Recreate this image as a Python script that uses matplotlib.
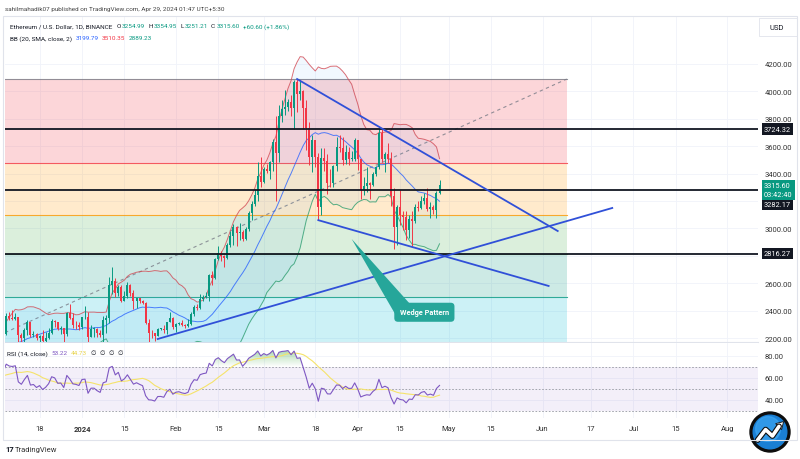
import numpy as np
import pandas as pd
import matplotlib
matplotlib.use('Agg')
import matplotlib.pyplot as plt
from matplotlib.path import Path
from matplotlib.patches import Circle, Polygon, Rectangle
from matplotlib.colors import to_rgb

plt.rcParams['font.family'] = ['Roboto', 'DejaVu Sans']

W, H = 800, 460

# ---- data (ETHUSD daily) ----
warmup_close = [1846, 1806, 1832, 1857, 1894, 1899, 1886, 1891, 2121, 2077,
                2053, 2046, 2055, 1980, 2058, 1961, 1962, 1963, 2012, 2022,
                1930, 2063, 2062, 2081, 2084, 2063, 2028, 2049, 2028, 2052]
first_open = 2052

close = [
    # Dec 2023
    2088, 2166, 2193, 2243, 2293, 2232, 2358, 2344, 2341, 2352,
    2225, 2202, 2260, 2316, 2221, 2228, 2197, 2218, 2178, 2201,
    2240, 2326, 2316, 2268, 2271, 2230, 2380, 2345, 2297, 2292, 2281,
    # Jan 2024
    2352, 2356, 2209, 2268, 2268, 2240, 2221, 2330, 2343, 2584,
    2616, 2525, 2576, 2472, 2510, 2587, 2528, 2467, 2490, 2470,
    2453, 2310, 2238, 2234, 2217, 2267, 2268, 2257, 2316, 2343, 2283,
    # Feb
    2304, 2309, 2296, 2290, 2300, 2375, 2425, 2420, 2487, 2500,
    2507, 2659, 2640, 2776, 2824, 2802, 2787, 2881, 2944, 3013,
    2967, 2971, 2921, 2992, 3112, 3175, 3242, 3385, 3340,
    # Mar
    3435, 3421, 3488, 3627, 3553, 3817, 3869, 3886, 3920, 3877,
    4067, 3982, 4004, 3880, 3736, 3523, 3644, 3520, 3157, 3517,
    3492, 3334, 3330, 3453, 3591, 3586, 3497, 3559, 3507, 3508, 3647,
    # Apr
    3506, 3280, 3310, 3330, 3319, 3396, 3450, 3697, 3503, 3542,
    3506, 3237, 3009, 3156, 3100, 3083, 2985, 3065, 3056, 3156,
    3147, 3202, 3219, 3140, 3157, 3131, 3254.99, 3315.60]

high = [
    2105, 2171, 2218, 2275, 2308, 2308, 2382, 2390, 2403, 2381,
    2355, 2240, 2270, 2330, 2320, 2252, 2240, 2225, 2255, 2245,
    2275, 2338, 2335, 2320, 2285, 2276, 2393, 2445, 2385, 2322, 2320,
    2355, 2432, 2388, 2295, 2278, 2270, 2260, 2358, 2368, 2643,
    2717, 2636, 2586, 2585, 2546, 2611, 2595, 2552, 2492, 2490,
    2475, 2460, 2338, 2258, 2236, 2270, 2276, 2297, 2319, 2392, 2352,
    2308, 2318, 2330, 2303, 2340, 2390, 2438, 2445, 2519, 2515,
    2537, 2665, 2687, 2787, 2868, 2836, 2808, 2890, 2982, 3032,
    3015, 3036, 2990, 3008, 3125, 3200, 3290, 3487, 3522,
    3450, 3470, 3495, 3650, 3822, 3900, 3940, 4010, 3945, 3970,
    4086, 4090, 4085, 4010, 3934, 3780, 3680, 3645, 3550, 3590,
    3588, 3542, 3435, 3460, 3665, 3680, 3665, 3610, 3595, 3565, 3660,
    3647, 3510, 3372, 3445, 3340, 3408, 3459, 3730, 3728, 3560,
    3620, 3554, 3295, 3172, 3278, 3125, 3124, 3100, 3126, 3177,
    3200, 3240, 3256, 3292, 3192, 3170, 3276, 3354.95]

low = [
    2046, 2085, 2150, 2190, 2202, 2215, 2225, 2330, 2330, 2328,
    2120, 2155, 2145, 2225, 2205, 2205, 2185, 2130, 2155, 2165,
    2190, 2230, 2280, 2260, 2230, 2170, 2218, 2340, 2270, 2268, 2262,
    2265, 2340, 2100, 2205, 2210, 2210, 2210, 2160, 2240, 2312,
    2518, 2500, 2505, 2465, 2470, 2495, 2505, 2414, 2417, 2455,
    2450, 2300, 2168, 2200, 2180, 2215, 2255, 2240, 2230, 2315, 2268,
    2243, 2293, 2290, 2273, 2282, 2295, 2363, 2405, 2414, 2470,
    2495, 2472, 2590, 2628, 2769, 2760, 2720, 2780, 2865, 2880,
    2875, 2918, 2905, 2914, 2980, 3060, 3165, 3200, 3300,
    3330, 3405, 3360, 3420, 3200, 3485, 3780, 3830, 3860, 3823,
    3725, 3850, 3935, 3725, 3570, 3460, 3410, 3450, 3060, 3100,
    3420, 3250, 3300, 3300, 3420, 3560, 3465, 3470, 3460, 3490, 3490,
    3423, 3212, 3245, 3265, 3212, 3310, 3383, 3437, 3482, 3413,
    3475, 3160, 2852, 2880, 3025, 2990, 2915, 2932, 2868, 3040,
    3130, 3145, 3180, 3125, 3075, 3107, 3073, 3251.21]

hlines = [3724.32, 3282.17, 2816.27]

fib_prices = [4090, 3480, 3100, 2815, 2500, 2058]
fib_colors = ['#787B86', '#F23645', '#FF9800', '#4CAF50', '#089981', '#00BCD4']
fib_start, fib_end = '2023-09-24', '2024-06-09'
fib_low = 1505

upper_line = (['2024-03-12', '2024-06-06'], [4090, 2981])
lower_line = (['2024-03-19', '2024-06-03'], [3060, 2580])
rising_line = (['2024-01-26', '2024-06-24'], [2193, 3149])

tick_dates = ['2023-12-18', '2024-01-01', '2024-01-15', '2024-02-01', '2024-02-15',
              '2024-03-01', '2024-03-18', '2024-04-01', '2024-04-15', '2024-05-01',
              '2024-05-15', '2024-06-01', '2024-06-17', '2024-07-01', '2024-07-15',
              '2024-08-01']
tick_labels = ['18', '2024', '15', 'Feb', '15', 'Mar', '18', 'Apr', '15', 'May',
               '15', 'Jun', '17', 'Jul', '15', 'Aug']

price_ticks = [2200, 2400, 2600, 2800, 3000, 3200, 3400, 3600, 3800, 4000, 4200]
hidden_ticks = [2800, 3200]


def day(s):
    return (np.datetime64(s) - np.datetime64('2024-01-01')).astype(int)


# ---- indicators ----
all_close = pd.Series(warmup_close + close, dtype=float)
all_x = day('2023-11-01') + np.arange(len(all_close))
c = np.array(close, dtype=float)
hi = np.array(high, dtype=float)
lo = np.array(low, dtype=float)
o = np.r_[first_open, c[:-1]]
xc = day('2023-12-01') + np.arange(len(c))

bb_mid = all_close.rolling(20).mean()
bb_sd = all_close.rolling(20).std(ddof=0)
bb_up = bb_mid + 2 * bb_sd
bb_lo = bb_mid - 2 * bb_sd

delta = all_close.diff().fillna(0)
gain = delta.clip(lower=0).ewm(alpha=1 / 14, adjust=False).mean()
loss = (-delta.clip(upper=0)).ewm(alpha=1 / 14, adjust=False).mean()
rsi = (100 - 100 / (1 + gain / loss)).values
rsi_ma = pd.Series(rsi).rolling(14).mean().values

# ---- figure ----
fig = plt.figure(figsize=(W / 100, H / 100), dpi=100)
ax = fig.add_axes([5 / W, 1 - 343 / H, 753 / W, 326 / H])
ax2 = fig.add_axes([5 / W, 1 - 419 / H, 753 / W, 75 / H])
xlim = (-25.4, 223.1)
tick_x = [day(t) for t in tick_dates]

for a in (ax, ax2):
    a.set_xlim(*xlim)
    a.set_xticks(tick_x)
    a.grid(color='#f0f3fa', lw=0.6)
    a.set_axisbelow(True)
    for sp in a.spines.values():
        sp.set_visible(False)
    a.yaxis.tick_right()
    a.tick_params(length=0, labelsize=5.5, labelcolor='#333333', pad=5)

ax.spines['bottom'].set_visible(True)
ax.spines['bottom'].set_color('#e0e3eb')
ax.spines['bottom'].set_linewidth(0.8)
ax.set_ylim(2171, 4550)
ax.set_yticks(price_ticks)
ax.set_yticklabels(['' if p in hidden_ticks else f'{p:.2f}' for p in price_ticks])
ax.tick_params(labelbottom=False)

# fibonacci zones
fx = [day(fib_start), day(fib_end)]
for i in range(1, len(fib_prices)):
    ax.fill_between(fx, fib_prices[i], fib_prices[i - 1], color=fib_colors[i],
                    alpha=0.2, lw=0, zorder=1)
for p, col in zip(fib_prices, fib_colors):
    ax.plot(fx, [p, p], color=col, lw=0.8, alpha=0.8, zorder=2)
ax.plot(fx, [fib_low, fib_prices[0]], color='#787B86', lw=0.8, ls=(0, (3, 3)),
        alpha=0.8, zorder=2)

# bollinger bands
ax.fill_between(all_x, bb_lo, bb_up, color='#2196F3', alpha=0.06, lw=0, zorder=3)
ax.plot(all_x, bb_mid, color='#2962FF', lw=0.7, alpha=0.8, zorder=3)
ax.plot(all_x, bb_up, color='#D04A55', lw=0.7, alpha=0.8, zorder=3)
ax.plot(all_x, bb_lo, color='#2F9E6E', lw=0.7, alpha=0.8, zorder=3)

# candles
cols = np.where(c >= o, '#089981', '#F23645')
ax.vlines(xc, lo, hi, colors=cols, lw=0.7, zorder=5)
ax.bar(xc, np.maximum(np.abs(c - o), 4), bottom=np.minimum(o, c), width=0.66,
       color=cols, lw=0, zorder=6)

# drawings
for dts, ps in (upper_line, lower_line, rising_line):
    ax.plot([day(d) for d in dts], ps, color='#3050D8', lw=1.3, zorder=8)
for p in hlines:
    ax.axhline(p, color='#131722', lw=1.3, zorder=7)

tail = [(day('2024-03-30'), 2923), (day('2024-04-14'), 2350), (day('2024-04-18'), 2455)]
ax.add_patch(Polygon(tail, closed=True, fc='#26a69a', ec='none', zorder=9))
ax.text(day('2024-04-23'), 2388, 'Wedge Pattern', ha='center', va='center',
        fontsize=5.3, fontweight='bold', color='white', zorder=10,
        bbox=dict(boxstyle='round,pad=0.75,rounding_size=0.5', fc='#26a69a', ec='none'))


# price tags on the axis
def price_tag(y, txt, bg, dy=0):
    ax.annotate(txt, xy=(1, y), xycoords=('axes fraction', 'data'),
                xytext=(6, dy), textcoords='offset pixels', ha='left', va='center',
                fontsize=5.3, color='white', linespacing=1.3, annotation_clip=False,
                bbox=dict(boxstyle='square,pad=0.3', fc=bg, ec='none'))


price_tag(hlines[0], '3724.32', '#131722')
price_tag(hlines[2], '2816.27', '#131722')
price_tag(hlines[1], '3282.17', '#131722', dy=-15)
price_tag(c[-1], '3315.60\n03:42:40', '#089981', dy=-5)

# ---- RSI pane ----
ax2.set_ylim(23.6, 91.8)
ax2.set_yticks([40, 60, 80])
ax2.set_yticklabels(['40.00', '60.00', '80.00'])
ax2.set_xticklabels(tick_labels)
for lab in ax2.get_xticklabels():
    if lab.get_text() == '2024':
        lab.set_fontweight('bold')
ax2.axhspan(30, 70, color='#7E57C2', alpha=0.09, lw=0)
for lvl in (70, 50, 30):
    ax2.axhline(lvl, color='#9598A1', lw=0.6, ls=(0, (2, 2)))
coll = ax2.fill_between(all_x, 70, rsi, where=rsi >= 70, interpolate=True,
                        facecolor='none', edgecolor='none')
paths = coll.get_paths()
if paths:
    grad = np.zeros((100, 1, 4))
    grad[..., :3] = to_rgb('#4CAF50')
    grad[..., 3] = np.linspace(0.0, 0.9, 100)[:, None]
    im = ax2.imshow(grad, extent=[all_x[0], all_x[-1], 70, 100], origin='lower',
                    aspect='auto', zorder=2, interpolation='bilinear')
    im.set_clip_path(Path.make_compound_path(*paths), ax2.transData)
ax2.plot(all_x, rsi_ma, color='#F5E36A', lw=0.8, zorder=3)
ax2.plot(all_x, rsi, color='#7E57C2', lw=0.8, zorder=4)
ax2.set_xlim(*xlim)

# ---- header / legends ----
renderer = fig.canvas.get_renderer()
HDR = 4.6
dark = '#131722'
green = '#089981'


def seq_text(x, y, parts, size=HDR):
    # each part: text, colour, gap (px) to the next part
    for s, col, gap in parts:
        t = fig.text(x / W, 1 - y / H, s, color=col, fontsize=size, ha='left', va='center')
        x += t.get_window_extent(renderer=renderer).width + gap


fig.text(5 / W, 1 - 10 / H, 'sahilmahadik07 published on TradingView.com, Apr 29, 2024 01:47 UTC+5:30',
         fontsize=HDR, color='#444444', va='center')
seq_text(10, 27, [('Ethereum / U.S. Dollar, 1D, BINANCE', dark, 4),
                  ('O', dark, 1.2), ('3254.99', green, 3),
                  ('H', dark, 1.2), ('3354.95', green, 3),
                  ('L', dark, 1.2), ('3251.21', green, 3),
                  ('C', dark, 1.2), ('3315.60', green, 3),
                  ('+60.60 (+1.86%)', green, 0)])
seq_text(10, 39, [('BB (20, SMA, close, 2)', dark, 4), ('3199.79', '#2962FF', 3),
                  ('3510.35', '#F23645', 3), ('2889.23', green, 0)])
seq_text(7, 354, [('RSI (14, close)', dark, 4), ('53.22', '#7E57C2', 3),
                  ('44.73', '#E8D44D', 4), ('∅', dark, 3.5), ('∅', dark, 3.5),
                  ('∅', dark, 3.5), ('∅', dark, 0)])

fig.text(770 / W, 1 - 28 / H, 'USD', fontsize=5.5, color=dark, va='center')
fig.add_artist(Rectangle((759 / W, 1 - 37 / H), 38 / W, 18 / H, transform=fig.transFigure,
                         fill=False, ec='#e0e3eb', lw=0.6))
fig.add_artist(Rectangle((3 / W, 1 - 441 / H), 794 / W, 424 / H, transform=fig.transFigure,
                         fill=False, ec='#e0e3eb', lw=0.8))

fig.text(5 / W, 1 - 450 / H, '17', fontsize=5.5, color=dark, va='center', fontweight='bold')
fig.text(15 / W, 1 - 450 / H, 'TradingView', fontsize=5.5, color='#333333', va='center')

# corner logo
lax = fig.add_axes([749 / W, 1 - 454 / H, 42 / W, 42 / H])
lax.set_xlim(-1.05, 1.05)
lax.set_ylim(-1.05, 1.05)
lax.set_aspect('equal')
lax.axis('off')
lax.add_patch(Circle((0, 0), 1.0, color='#0d0d0d'))
lax.add_patch(Circle((0, 0), 0.84, color='#1a7fd4'))
lax.add_patch(Circle((-0.1, 0.15), 0.62, color='#3fa9f5', alpha=0.6))
lax.plot([-0.62, -0.22, 0.12, 0.45], [-0.4, 0.12, -0.2, 0.28], color='#0d0d0d', lw=4.2,
         solid_capstyle='round', solid_joinstyle='round')
lax.plot([-0.62, -0.22, 0.12, 0.45], [-0.4, 0.12, -0.2, 0.28], color='white', lw=2.6,
         solid_capstyle='round', solid_joinstyle='round')
lax.add_patch(Polygon([(0.68, 0.52), (0.28, 0.42), (0.58, 0.12)], closed=True, fc='white',
                      ec='#0d0d0d', lw=0.6))

fig.savefig('out.png', dpi=100, facecolor='white')
